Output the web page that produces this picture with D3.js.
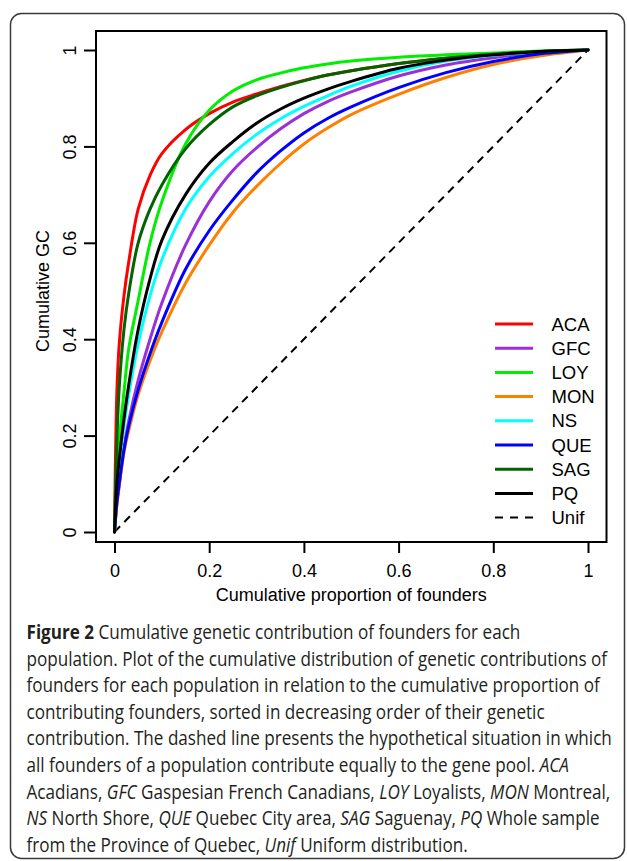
<!DOCTYPE html>
<html>
<head>
<meta charset="utf-8">
<script src="https://cdn.jsdelivr.net/npm/d3@7"></script>
<style>
	body { margin: 0; background: #fff; }
	svg { display: block; }
	.plot text { font-family: "Liberation Sans", Arial, Helvetica, sans-serif; }
	.caption text { font-family: "Open Sans", "Noto Sans", sans-serif; fill: #231f20; }
</style>
</head>
<body>
<script>
// cumulative proportion of founders (x, shared by all series)
const propFounders = [0, 0.005, 0.01, 0.02, 0.03, 0.05, 0.075, 0.1, 0.15, 0.2, 0.25, 0.3, 0.35, 0.4, 0.45, 0.5, 0.6, 0.7, 0.8, 0.9, 1];

// cumulative GC, one list per population
const gcACA = [0, 0.29, 0.39, 0.49, 0.56, 0.67, 0.74, 0.785, 0.835, 0.868, 0.892, 0.909, 0.924, 0.937, 0.948, 0.957, 0.972, 0.983, 0.991, 0.996, 1];
const gcGFC = [0, 0.06, 0.10, 0.175, 0.23, 0.315, 0.40, 0.475, 0.595, 0.685, 0.75, 0.797, 0.836, 0.868, 0.893, 0.913, 0.946, 0.969, 0.984, 0.995, 1];
const gcLOY = [0, 0.11, 0.19, 0.29, 0.38, 0.48, 0.60, 0.685, 0.805, 0.875, 0.915, 0.938, 0.952, 0.963, 0.971, 0.977, 0.985, 0.99, 0.994, 0.998, 1];
const gcMON = [0, 0.055, 0.095, 0.165, 0.21, 0.285, 0.355, 0.415, 0.516, 0.595, 0.663, 0.717, 0.764, 0.805, 0.838, 0.866, 0.908, 0.943, 0.97, 0.988, 1];
const gcNS = [0, 0.09, 0.14, 0.22, 0.285, 0.39, 0.49, 0.565, 0.67, 0.737, 0.785, 0.825, 0.857, 0.883, 0.905, 0.925, 0.956, 0.977, 0.989, 0.996, 1];
const gcQUE = [0, 0.06, 0.10, 0.17, 0.22, 0.295, 0.37, 0.435, 0.545, 0.625, 0.689, 0.745, 0.79, 0.828, 0.858, 0.882, 0.922, 0.953, 0.976, 0.992, 1];
const gcSAG = [0, 0.19, 0.30, 0.42, 0.495, 0.60, 0.67, 0.72, 0.795, 0.845, 0.882, 0.905, 0.922, 0.936, 0.948, 0.957, 0.972, 0.983, 0.991, 0.997, 1];
const gcPQ = [0, 0.10, 0.15, 0.235, 0.305, 0.42, 0.525, 0.605, 0.70, 0.765, 0.81, 0.848, 0.877, 0.90, 0.919, 0.935, 0.962, 0.979, 0.99, 0.997, 1];
const unifX = [0, 1];
const unifY = [0, 1];

const seriesNames = ["ACA", "GFC", "LOY", "MON", "NS", "QUE", "SAG", "PQ"];
const seriesValues = [gcACA, gcGFC, gcLOY, gcMON, gcNS, gcQUE, gcSAG, gcPQ];
const seriesColors = ["#ff0000", "#9b30d8", "#00ee00", "#ff8000", "#00ffff", "#0000ff", "#006400", "#000000"];
const legendNames = seriesNames.concat(["Unif"]);

const tickValues = [0, 0.2, 0.4, 0.6, 0.8, 1];
const tickLabels = ["0", "0.2", "0.4", "0.6", "0.8", "1"];

const captionLines = [
	[["b", "Figure 2"], ["n", " Cumulative genetic contribution of founders for each"]],
	[["n", "population. Plot of the cumulative distribution of genetic contributions of"]],
	[["n", "founders for each population in relation to the cumulative proportion of"]],
	[["n", "contributing founders, sorted in decreasing order of their genetic"]],
	[["n", "contribution. The dashed line presents the hypothetical situation in which"]],
	[["n", "all founders of a population contribute equally to the gene pool. "], ["i", "ACA"]],
	[["n", "Acadians, "], ["i", "GFC"], ["n", " Gaspesian French Canadians, "], ["i", "LOY"], ["n", " Loyalists, "], ["i", "MON"], ["n", " Montreal,"]],
	[["i", "NS"], ["n", " North Shore, "], ["i", "QUE"], ["n", " Quebec City area, "], ["i", "SAG"], ["n", " Saguenay, "], ["i", "PQ"], ["n", " Whole sample"]],
	[["n", "from the Province of Quebec, "], ["i", "Unif"], ["n", " Uniform distribution."]]
];

/*------------Size---------------*/
const W = 627, H = 861;
const px = { l: 114.5, r: 588 };  // data range in x
const py = { b: 532, t: 50 };     // data range in y
const box = { l: 96, r: 606.5, t: 31, b: 542 };

const svg = d3.select("body").append("svg")
	.attr("width", W)
	.attr("height", H);

svg.append("rect").attr("width", W).attr("height", H).attr("fill", "#fff");

// rounded frame of the figure
svg.append("rect")
	.attr("x", 10.5).attr("y", 13.5)
	.attr("width", 614).attr("height", 845)
	.attr("rx", 11)
	.attr("fill", "none")
	.attr("stroke", "#3a3a3a")
	.attr("stroke-width", 1.5);

const x = d3.scaleLinear().domain([0, 1]).range([px.l, px.r]);
const y = d3.scaleLinear().domain([0, 1]).range([py.b, py.t]);

const plot = svg.append("g").attr("class", "plot");

/*----------Curves------------*/
const line = d3.line()
	.x((d) => x(d[0]))
	.y((d) => y(d[1]))
	.curve(d3.curveCatmullRom.alpha(0.5));

plot.append("path")
	.datum(unifX.map((v, i) => [v, unifY[i]]))
	.attr("d", line)
	.attr("fill", "none")
	.attr("stroke", "#000")
	.attr("stroke-width", 2)
	.attr("stroke-dasharray", "8,6");

seriesValues.forEach((vals, k) => {
	plot.append("path")
		.datum(propFounders.map((p, i) => [p, vals[i]]))
		.attr("d", line)
		.attr("fill", "none")
		.attr("stroke", seriesColors[k])
		.attr("stroke-width", 3)
		.attr("stroke-linejoin", "round")
		.attr("stroke-linecap", "round");
});

/*----------Box and axes------------*/
plot.append("rect")
	.attr("x", box.l).attr("y", box.t)
	.attr("width", box.r - box.l).attr("height", box.b - box.t)
	.attr("fill", "none")
	.attr("stroke", "#000")
	.attr("stroke-width", 2);

const xAxis = plot.append("g")
	.attr("transform", `translate(0,${box.b})`)
	.call(d3.axisBottom(x).tickValues(tickValues).tickFormat((d, i) => tickLabels[i]).tickSize(11).tickPadding(8));
xAxis.select(".domain").remove();
xAxis.selectAll("line").attr("stroke-width", 2);
xAxis.selectAll("text")
	.attr("font-size", 18)
	.attr("fill", "#000")
	.attr("dy", null)
	.attr("y", 34.5);

const yAxis = plot.append("g")
	.attr("transform", `translate(${box.l},0)`)
	.call(d3.axisLeft(y).tickValues(tickValues).tickFormat((d, i) => tickLabels[i]).tickSize(12));
yAxis.select(".domain").remove();
yAxis.selectAll("line").attr("stroke-width", 2);
yAxis.selectAll("text")
	.attr("font-size", 18)
	.attr("fill", "#000")
	.attr("x", 0)
	.attr("dy", null)
	.attr("y", -20.5)
	.attr("text-anchor", "middle")
	.attr("transform", "rotate(-90)");

plot.append("text")
	.attr("x", (px.l + px.r) / 2)
	.attr("y", 601)
	.attr("text-anchor", "middle")
	.attr("font-size", 18)
	.text("Cumulative proportion of founders");

plot.append("text")
	.attr("transform", `translate(48.5,${(py.t + py.b) / 2}) rotate(-90)`)
	.attr("text-anchor", "middle")
	.attr("font-size", 18)
	.text("Cumulative GC");

/*----------Legend------------*/
const legend = plot.append("g").attr("transform", "translate(495,324)");
const items = legend.selectAll("g")
	.data(legendNames)
	.enter()
	.append("g")
	.attr("transform", (d, i) => `translate(0,${i * 24.2})`);

items.append("line")
	.attr("x1", 0).attr("x2", 38)
	.attr("stroke", (d, i) => (i < seriesColors.length ? seriesColors[i] : "#000"))
	.attr("stroke-width", (d, i) => (i < seriesColors.length ? 3 : 2))
	.attr("stroke-dasharray", (d, i) => (i < seriesColors.length ? null : "8,7"));

items.append("text")
	.attr("x", 56.5)
	.attr("dy", "0.36em")
	.attr("font-size", 18.5)
	.text((d) => d);

/*----------Caption------------*/
const caption = svg.append("g").attr("class", "caption");
const capLines = caption.selectAll("text")
	.data(captionLines)
	.enter()
	.append("text")
	.attr("x", 0)
	.attr("y", (d, i) => 639 + i * 26.6)
	.attr("font-size", 19.5);

capLines.selectAll("tspan")
	.data((d) => d)
	.enter()
	.append("tspan")
	.attr("font-weight", (d) => (d[0] === "b" ? 700 : 400))
	.attr("font-style", (d) => (d[0] === "i" ? "italic" : "normal"))
	.text((d) => d[1]);

// narrow the caption font to the width of the original typeset lines
const widest = capLines.nodes()[4].getComputedTextLength();
const k = 586 / widest;
caption.attr("transform", `translate(26.5,0) scale(${k},1)`);
</script>
</body>
</html>
